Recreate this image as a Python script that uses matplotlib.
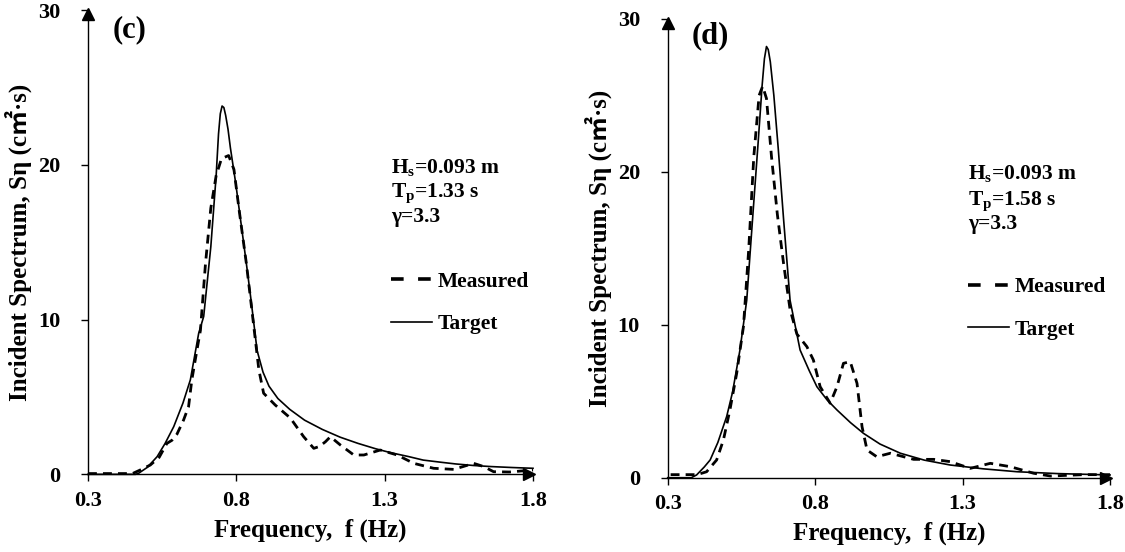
import numpy as np
import matplotlib
matplotlib.use("Agg")
import matplotlib.pyplot as plt
from matplotlib.lines import Line2D
from matplotlib import transforms

plt.rcParams["font.family"] = ["Liberation Serif", "Noto Sans CJK JP"]
plt.rcParams["font.weight"] = "bold"
plt.rcParams["mathtext.fontset"] = "custom"
plt.rcParams["mathtext.rm"] = "Liberation Serif:bold"
plt.rcParams["mathtext.it"] = "Liberation Serif:bold"
plt.rcParams["mathtext.bf"] = "Liberation Serif:bold"

# ---- panel (c): Tp = 1.33 s ----
c_target_f = [0.30, 0.40, 0.46, 0.47, 0.50, 0.533, 0.56, 0.589, 0.62, 0.645, 0.673, 0.69,
              0.714, 0.732, 0.740, 0.746, 0.752, 0.758, 0.764, 0.772, 0.78, 0.798, 0.816,
              0.834, 0.85, 0.87, 0.89, 0.91, 0.94, 0.98, 1.03, 1.09, 1.15, 1.21, 1.27, 1.32,
              1.38, 1.43, 1.49, 1.54, 1.60, 1.66, 1.73, 1.80]
c_target_s = [0.0, 0.0, 0.0, 0.06, 0.45, 1.14, 2.0, 3.08, 4.6, 6.1, 9.1, 10.2,
              14.7, 19.3, 22.0, 23.3, 23.8, 23.7, 23.2, 22.3, 21.1, 18.8, 16.2,
              13.6, 11.2, 8.0, 6.6, 5.7, 4.9, 4.2, 3.5, 2.9, 2.4, 2.0, 1.65, 1.4,
              1.15, 0.92, 0.78, 0.67, 0.57, 0.5, 0.44, 0.39]
c_meas_f = [0.30, 0.35, 0.40, 0.45, 0.476, 0.51, 0.54, 0.566, 0.583, 0.60, 0.622, 0.639,
            0.65, 0.667, 0.679, 0.696, 0.714, 0.732, 0.75, 0.774, 0.792, 0.81, 0.834, 0.858,
            0.876, 0.892, 0.931, 0.982, 1.027, 1.061, 1.08, 1.10, 1.117, 1.151, 1.196, 1.23,
            1.285, 1.342, 1.398, 1.465, 1.533, 1.60, 1.634, 1.667, 1.72, 1.80]
c_meas_s = [0.05, 0.05, 0.05, 0.05, 0.28, 0.6, 1.1, 2.0, 2.2, 2.6, 3.5, 4.37,
            6.1, 8.0, 9.3, 13.6, 17.2, 19.3, 20.4, 20.6, 19.7, 17.0, 13.6, 9.7,
            6.75, 5.24, 4.48, 3.64, 2.43, 1.68, 1.8, 2.1, 2.43, 1.89, 1.25, 1.25,
            1.57, 1.25, 0.71, 0.39, 0.32, 0.71, 0.5, 0.17, 0.15, 0.28]

# ---- panel (d): Tp = 1.58 s ----
d_target_f = [0.30, 0.38, 0.398, 0.424, 0.444, 0.47, 0.50, 0.52, 0.545, 0.568, 0.59, 0.607,
              0.62, 0.628, 0.635, 0.641, 0.648, 0.66, 0.675, 0.693, 0.715, 0.749, 0.78, 0.806,
              0.84, 0.874, 0.92, 0.964, 1.02, 1.089, 1.17, 1.258, 1.37, 1.485, 1.62, 1.80]
d_target_s = [0.0, 0.0, 0.18, 0.7, 1.16, 2.3, 4.0, 5.6, 8.35, 11.6, 17.5, 22.0,
              25.6, 27.4, 28.2, 28.0, 27.2, 25.0, 21.5, 16.9, 11.6, 8.35, 7.0, 5.95,
              5.1, 4.43, 3.6, 2.9, 2.2, 1.6, 1.15, 0.83, 0.58, 0.39, 0.27, 0.18]
d_meas_f = [0.31, 0.36, 0.40, 0.432, 0.466, 0.489, 0.511, 0.534, 0.557, 0.575, 0.592, 0.61,
            0.622, 0.635, 0.652, 0.672, 0.693, 0.715, 0.738, 0.772, 0.794, 0.817, 0.851, 0.874,
            0.896, 0.919, 0.942, 0.959, 0.976, 1.009, 1.055, 1.134, 1.202, 1.258, 1.326, 1.394,
            1.462, 1.541, 1.598, 1.71, 1.80]
d_meas_s = [0.2, 0.2, 0.2, 0.39, 1.16, 2.47, 4.43, 6.83, 9.9, 15.0, 21.0, 25.0,
            25.6, 24.8, 21.0, 17.2, 14.0, 11.0, 9.4, 8.57, 7.7, 5.95, 4.87, 5.95,
            7.48, 7.59, 6.17, 3.34, 1.81, 1.37, 1.6, 1.2, 1.2, 1.05, 0.61, 0.94,
            0.72, 0.29, 0.11, 0.2, 0.2]

x_ticks = [0.3, 0.8, 1.3, 1.8]
y_ticks = [0, 10, 20, 30]

panels = [
    dict(tag="(c)", tf=c_target_f, ts=c_target_s, mf=c_meas_f, ms=c_meas_s,
         info=["H$_{\\rm s}$=0.093 m", "T$_{\\rm p}$=1.33 s", "\u03b3=3.3"],
         rect=[0.0782, 0.1407, 0.3956, 0.8411], info_y=[0.650, 0.598, 0.544], info_x=0.682,
         tag_xy=(0.056, 0.957)),
    dict(tag="(d)", tf=d_target_f, ts=d_target_s, mf=d_meas_f, ms=d_meas_s,
         info=["H$_{\\rm s}$=0.093 m", "T$_{\\rm p}$=1.58 s", "\u03b3=3.3"],
         rect=[0.5935, 0.1346, 0.3932, 0.8310], info_y=[0.6505, 0.5945, 0.5415], info_x=0.679,
         tag_xy=(0.054, 0.963)),
]

fig = plt.figure(figsize=(11.25, 5.52), dpi=100)

for p in panels:
    ax = fig.add_axes(p["rect"])
    ax.plot(p["mf"], p["ms"], color="black", lw=2.0, dashes=(3.2, 2.2), clip_on=False)
    ax.plot(p["tf"], p["ts"], color="black", lw=1.2, clip_on=False)

    ax.set_xlim(0.3, 1.8)
    ax.set_ylim(0, 30)
    ax.set_xticks(x_ticks)
    ax.set_xticklabels([f"{v:.1f}" for v in x_ticks])
    ax.set_yticks(y_ticks)
    ax.tick_params(axis="x", direction="out", length=5, width=1, pad=7, labelsize=16)
    ax.tick_params(axis="y", direction="out", length=5, width=1, pad=15, labelsize=16)
    for lab in ax.get_xticklabels() + ax.get_yticklabels():
        lab.set_fontweight("bold")

    for side in ["top", "right"]:
        ax.spines[side].set_visible(False)
    for side in ["left", "bottom"]:
        ax.spines[side].set_linewidth(1.0)

    # arrow heads on the axes
    ax.plot(1, 0, marker=">", color="black", markersize=9, clip_on=False,
            transform=transforms.offset_copy(ax.transAxes, fig=fig, x=-4, y=0, units="dots"))
    ax.plot(0, 1, marker="^", color="black", markersize=9, clip_on=False,
            transform=transforms.offset_copy(ax.transAxes, fig=fig, x=0, y=-4, units="dots"))

    ax.set_xlabel("Frequency,  f (Hz)", fontsize=18, fontweight="bold")
    ax.xaxis.set_label_coords(0.5, -0.095)
    ax.set_ylabel("Incident Spectrum, S\u03b7 (c\u33a1\u00b7s)", fontsize=18, fontweight="bold")
    ax.yaxis.set_label_coords(-0.125, 0.5)

    ax.text(p["tag_xy"][0], p["tag_xy"][1], p["tag"], transform=ax.transAxes,
            fontsize=22, fontweight="bold", va="center", ha="left")
    for line, yy in zip(p["info"], p["info_y"]):
        ax.text(p["info_x"], yy, line, transform=ax.transAxes, fontsize=15.5,
                fontweight="bold", va="baseline", ha="left")

    handles = [Line2D([], [], color="black", lw=2.6, dashes=(3.5, 4.0)),
               Line2D([], [], color="black", lw=1.2)]
    ax.legend(handles, ["Measured", "Target"], loc="upper left",
              bbox_to_anchor=(p["info_x"], 0.437), frameon=False,
              prop=dict(family="Liberation Serif", weight="bold", size=15.5),
              handlelength=1.9, handletextpad=0.25, borderpad=0, borderaxespad=0,
              labelspacing=1.05)

fig.savefig("out.png", dpi=100)
